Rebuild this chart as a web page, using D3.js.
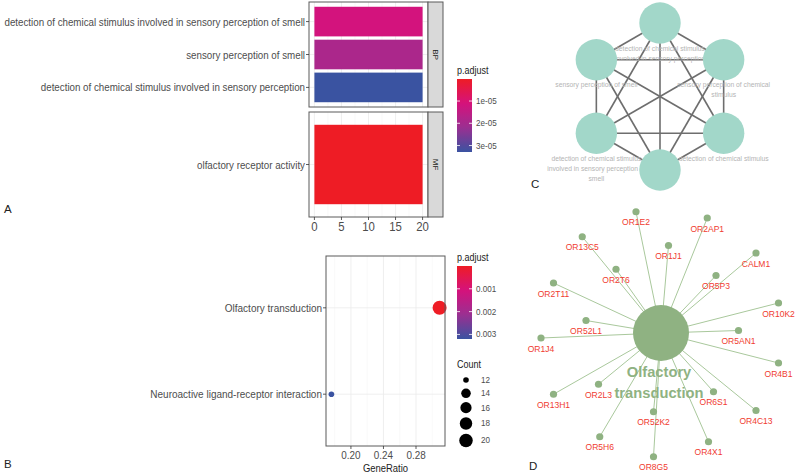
<!DOCTYPE html>
<html>
<head>
<meta charset="utf-8">
<script src="https://cdn.jsdelivr.net/npm/d3@7"></script>
<style>
body{margin:0;background:#fff;}
svg{display:block;font-family:"Liberation Sans",Arial,sans-serif;}
</style>
</head>
<body>
<script>
// ---- panel A: GO enrichment (barplot, faceted by ontology)
var goTerms = ["detection of chemical stimulus involved in sensory perception of smell",
               "sensory perception of smell",
               "detection of chemical stimulus involved in sensory perception",
               "olfactory receptor activity"];
var goOnt = ["BP", "BP", "BP", "MF"];
var goCount = [20, 20, 20, 20];
var goPadj = [1.15e-5, 1.9e-5, 3.29e-5, 1e-7];
var goTicks = [0, 5, 10, 15, 20];
var goLegendTicks = [1e-5, 2e-5, 3e-5];

// ---- panel B: KEGG enrichment (dotplot)
var keggTerms = ["Olfactory transduction", "Neuroactive ligand-receptor interaction"];
var keggRatio = [0.309, 0.176];
var keggCount = [21, 12];
var keggPadj = [1e-6, 0.0032];
var keggTicks = [0.20, 0.24, 0.28];
var keggLegendTicks = [0.001, 0.002, 0.003];
var countBreaks = [12, 14, 16, 18, 20];

// ---- panel C: enrichment map (term similarity network)
var mapTerms = ["detection of chemical stimulus involved in sensory perception",
                "sensory perception of chemical stimulus",
                "detection of chemical stimulus",
                "",
                "detection of chemical stimulus involved in sensory perception of smell",
                "sensory perception of smell"];
var mapLines = [["detection of chemical stimulus", "involved in sensory perception"],
                ["sensory perception of chemical", "stimulus"],
                ["detection of chemical stimulus"],
                [],
                ["detection of chemical stimulus", "involved in sensory perception of", "smell"],
                ["sensory perception of smell"]];

// ---- panel D: gene-concept network (layout coordinates)
var hubName = ["Olfactory", "transduction"];
var genes = ["OR1E2", "OR2AP1", "OR13C5", "OR1J1", "CALM1", "OR2T6", "OR5P3", "OR2T11",
             "OR10K2", "OR52L1", "OR5AN1", "OR1J4", "OR4B1", "OR13H1", "OR2L3", "OR6S1",
             "OR4C13", "OR52K2", "OR5H6", "OR4X1", "OR8G5"];
var geneX = [-0.20, 0.37, -0.63, 0.06, 0.76, -0.36, 0.44, -0.86, 0.94, -0.60, 0.62,
             -0.96, 0.94, -0.86, -0.50, 0.42, 0.76, -0.06, -0.49, 0.38, -0.06];
var geneY = [-0.97, -0.92, -0.77, -0.70, -0.64, -0.51, -0.46, -0.40, -0.24, -0.10, -0.02,
             0.04, 0.24, 0.49, 0.41, 0.47, 0.62, 0.63, 0.83, 0.87, 0.99];

// colours of the red -> blue p.adjust gradient
var padjColors = ['#ee1c25', '#d5127c', '#9b2f91', '#3a53a1'];

var width = 800, height = 473;
var svg = d3.select('body').append('svg')
    .attr('width', width)
    .attr('height', height);

// text in the figure is horizontally narrow, squeeze it a bit
var SX = 0.85;
function txt(g, x, y, s, o){
    o = o || {};
    return g.append('text')
        .attr('transform', 'translate(' + x + ',' + y + ') scale(' + (o.sx || SX) + ',1)')
        .attr('text-anchor', o.anchor || 'start')
        .attr('font-size', o.size || 11.5)
        .attr('font-weight', o.weight || 'normal')
        .attr('fill', o.fill || '#4d4d4d')
        .text(s);
}

function padjColor(domain){
    var n = padjColors.length - 1;
    return d3.scaleLinear()
        .domain(padjColors.map(function(c, i){ return domain[0] + (domain[1] - domain[0]) * i / n; }))
        .range(padjColors)
        .interpolate(d3.interpolateRgb);
}

// colourbar legend
function colorbar(id, x, y, w, h, color, ticks){
    var dom = [color.domain()[0], color.domain()[color.domain().length - 1]];
    var grad = svg.append('defs').append('linearGradient')
        .attr('id', id).attr('x1', 0).attr('x2', 0).attr('y1', 0).attr('y2', 1);
    d3.range(0, 1.0001, 0.05).forEach(function(t){
        grad.append('stop').attr('offset', t)
            .attr('stop-color', color(dom[0] + t * (dom[1] - dom[0])));
    });
    var g = svg.append('g');
    txt(g, x, y - 5, 'p.adjust', {size: 10, sx: 0.9, fill: '#222'});
    g.append('rect').attr('x', x).attr('y', y).attr('width', w).attr('height', h)
        .attr('fill', 'url(#' + id + ')');
    var s = d3.scaleLinear().domain(dom).range([y, y + h]);
    ticks.forEach(function(t){
        g.append('line').attr('x1', x).attr('x2', x + 3).attr('y1', s(t)).attr('y2', s(t))
            .attr('stroke', '#fff').attr('stroke-width', 0.8);
        g.append('line').attr('x1', x + w - 3).attr('x2', x + w).attr('y1', s(t)).attr('y2', s(t))
            .attr('stroke', '#fff').attr('stroke-width', 0.8);
        txt(g, x + w + 4, s(t) + 3, t < 1e-4 ? d3.format('.0e')(t).replace('e-5', 'e-05') : d3.format('.3f')(t),
            {size: 9, sx: 0.9});
    });
}

// ================= panel A
(function(){
    var x0 = 309, x1 = 428;
    var maxC = d3.max(goCount);
    var ax = d3.scaleLinear().domain([-maxC * 0.05, maxC * 1.05]).range([x0, x1]);
    var color = padjColor([d3.min(goPadj), d3.max(goPadj)]);
    var facets = [{ont: 'BP', y0: 2, y1: 107}, {ont: 'MF', y0: 112, y1: 217}];
    var g = svg.append('g');
    facets.forEach(function(f, fi){
        var idx = d3.range(goTerms.length).filter(function(i){ return goOnt[i] === f.ont; });
        var y = d3.scaleBand().domain(idx).range([f.y0, f.y1])
            .paddingInner(0.1).paddingOuter(0.145);
        g.append('rect').attr('x', x0).attr('y', f.y0).attr('width', x1 - x0).attr('height', f.y1 - f.y0)
            .attr('fill', '#fff');
        // grid
        goTicks.forEach(function(t, k){
            g.append('line').attr('x1', ax(t)).attr('x2', ax(t)).attr('y1', f.y0).attr('y2', f.y1)
                .attr('stroke', '#ebebeb').attr('stroke-width', 0.8);
            if (k < goTicks.length - 1) {
                var m = (t + goTicks[k + 1]) / 2;
                g.append('line').attr('x1', ax(m)).attr('x2', ax(m)).attr('y1', f.y0).attr('y2', f.y1)
                    .attr('stroke', '#f3f3f3').attr('stroke-width', 0.5);
            }
        });
        idx.forEach(function(i){
            g.append('line').attr('x1', x0).attr('x2', x1)
                .attr('y1', y(i) + y.bandwidth() / 2).attr('y2', y(i) + y.bandwidth() / 2)
                .attr('stroke', '#ebebeb').attr('stroke-width', 0.8);
        });
        g.selectAll(null).data(idx).enter().append('rect')
            .attr('x', ax(0))
            .attr('y', function(i){ return y(i); })
            .attr('width', function(i){ return ax(goCount[i]) - ax(0); })
            .attr('height', y.bandwidth())
            .attr('fill', function(i){ return color(goPadj[i]); });
        g.append('rect').attr('x', x0).attr('y', f.y0).attr('width', x1 - x0).attr('height', f.y1 - f.y0)
            .attr('fill', 'none').attr('stroke', '#5a5a5a').attr('stroke-width', 1);
        // strip
        g.append('rect').attr('x', x1).attr('y', f.y0).attr('width', 15).attr('height', f.y1 - f.y0)
            .attr('fill', '#d9d9d9').attr('stroke', '#5a5a5a').attr('stroke-width', 1);
        g.append('text')
            .attr('transform', 'translate(' + (x1 + 5) + ',' + ((f.y0 + f.y1) / 2) + ') rotate(90)')
            .attr('text-anchor', 'middle').attr('font-size', 8).attr('fill', '#1a1a1a')
            .text(f.ont);
        // y axis
        idx.forEach(function(i){
            var yy = y(i) + y.bandwidth() / 2;
            g.append('line').attr('x1', x0 - 3).attr('x2', x0).attr('y1', yy).attr('y2', yy)
                .attr('stroke', '#333').attr('stroke-width', 0.8);
            txt(g, x0 - 4, yy + 4, goTerms[i], {anchor: 'end'});
        });
        if (fi === facets.length - 1) {
            goTicks.forEach(function(t){
                g.append('line').attr('x1', ax(t)).attr('x2', ax(t)).attr('y1', f.y1).attr('y2', f.y1 + 3)
                    .attr('stroke', '#333').attr('stroke-width', 0.8);
                txt(g, ax(t), f.y1 + 13.5, t, {anchor: 'middle', size: 12, sx: 0.95});
            });
        }
    });
    colorbar('gA', 457, 79, 15, 73, color, goLegendTicks);
    txt(svg, 4, 213, 'A', {size: 11.5, sx: 1, fill: '#222'});
})();

// ================= panel B
(function(){
    var x0 = 326, x1 = 445, y0 = 256, y1 = 446;
    var ext = d3.extent(keggRatio), pad = (ext[1] - ext[0]) * 0.05;
    var x = d3.scaleLinear().domain([ext[0] - pad, ext[1] + pad]).range([x0, x1]);
    var y = d3.scalePoint().domain(keggTerms).range([y0, y1]).padding(0.6);
    var color = padjColor([d3.min(keggPadj), d3.max(keggPadj)]);
    var cmin = d3.min(keggCount), cmax = d3.max(keggCount);
    var r = function(c){ return 2.8 + 4.2 * Math.sqrt((c - cmin) / (cmax - cmin)); };
    var g = svg.append('g');
    var step = keggTicks[1] - keggTicks[0];
    var minor = d3.range(keggTicks[0] - step / 2, x.domain()[1], step)
        .filter(function(v){ return v > x.domain()[0]; });
    minor.forEach(function(t){
        g.append('line').attr('x1', x(t)).attr('x2', x(t)).attr('y1', y0).attr('y2', y1)
            .attr('stroke', '#f3f3f3').attr('stroke-width', 0.5);
    });
    keggTicks.forEach(function(t){
        g.append('line').attr('x1', x(t)).attr('x2', x(t)).attr('y1', y0).attr('y2', y1)
            .attr('stroke', '#ebebeb').attr('stroke-width', 0.8);
    });
    keggTerms.forEach(function(t){
        g.append('line').attr('x1', x0).attr('x2', x1).attr('y1', y(t)).attr('y2', y(t))
            .attr('stroke', '#ebebeb').attr('stroke-width', 0.8);
    });
    g.selectAll(null).data(keggTerms).enter().append('circle')
        .attr('cx', function(d, i){ return x(keggRatio[i]); })
        .attr('cy', function(d){ return y(d); })
        .attr('r', function(d, i){ return r(keggCount[i]); })
        .attr('fill', function(d, i){ return color(keggPadj[i]); });
    g.append('rect').attr('x', x0).attr('y', y0).attr('width', x1 - x0).attr('height', y1 - y0)
        .attr('fill', 'none').attr('stroke', '#5a5a5a').attr('stroke-width', 1);
    keggTerms.forEach(function(t){
        g.append('line').attr('x1', x0 - 3).attr('x2', x0).attr('y1', y(t)).attr('y2', y(t))
            .attr('stroke', '#333').attr('stroke-width', 0.8);
        txt(g, x0 - 4, y(t) + 4, t, {anchor: 'end', sx: 0.87});
    });
    keggTicks.forEach(function(t){
        g.append('line').attr('x1', x(t)).attr('x2', x(t)).attr('y1', y1).attr('y2', y1 + 3)
            .attr('stroke', '#333').attr('stroke-width', 0.8);
        txt(g, x(t), y1 + 13, d3.format('.2f')(t), {anchor: 'middle', size: 11, sx: 0.9});
    });
    txt(g, (x0 + x1) / 2, y1 + 25.5, 'GeneRatio', {anchor: 'middle', size: 10.5, sx: 0.9, fill: '#222'});
    colorbar('gB', 457, 266, 15, 73, color, keggLegendTicks);
    // size legend
    var lg = svg.append('g');
    txt(lg, 457, 368, 'Count', {size: 10, sx: 0.9, fill: '#222'});
    var cy = 380, prevH = null;
    countBreaks.forEach(function(c){
        var h = Math.max(13, 2 * r(c) + 4);
        if (prevH !== null) cy += (prevH + h) / 2;
        lg.append('circle').attr('cx', 466).attr('cy', cy).attr('r', r(c)).attr('fill', '#000');
        txt(lg, 481, cy + 3, c, {size: 9, sx: 0.9});
        prevH = h;
    });
    txt(svg, 4, 468, 'B', {size: 11.5, sx: 1, fill: '#222'});
})();

// ================= panel C
(function(){
    var cx = 660, cy = 96.5, R = 73.5, nodeR = 20.7;
    var ang = d3.scaleLinear().domain([0, mapTerms.length]).range([-Math.PI / 2, 1.5 * Math.PI]);
    var nodes = mapTerms.map(function(t, i){
        return {name: t, lines: mapLines[i],
                x: cx + R * Math.cos(ang(i)), y: cy + R * Math.sin(ang(i))};
    });
    var links = [];
    nodes.forEach(function(a, i){
        nodes.forEach(function(b, j){ if (j > i) links.push([a, b]); });
    });
    var g = svg.append('g');
    g.selectAll(null).data(links).enter().append('line')
        .attr('x1', function(d){ return d[0].x; }).attr('y1', function(d){ return d[0].y; })
        .attr('x2', function(d){ return d[1].x; }).attr('y2', function(d){ return d[1].y; })
        .attr('stroke', '#6e6e6e').attr('stroke-width', 1.6);
    nodes.forEach(function(n){
        n.lines.forEach(function(l, k){
            txt(g, n.x, n.y + 27.5 + k * 10, l, {anchor: 'middle', size: 7.5, sx: 0.9, fill: '#b4b4b4'});
        });
    });
    g.selectAll(null).data(nodes).enter().append('circle')
        .attr('cx', function(d){ return d.x; }).attr('cy', function(d){ return d.y; })
        .attr('r', nodeR).attr('fill', '#a2d7c9');
    txt(svg, 531, 188, 'C', {size: 11.5, sx: 1, fill: '#222'});
})();

// ================= panel D
(function(){
    var hx = 661, hy = 333;
    var x = d3.scaleLinear().domain([-1, 1]).range([hx - 125, hx + 125]);
    var y = d3.scaleLinear().domain([-1, 1]).range([hy - 125, hy + 125]);
    var g = svg.append('g');
    g.selectAll(null).data(genes).enter().append('line')
        .attr('x1', x(0)).attr('y1', y(0))
        .attr('x2', function(d, i){ return x(geneX[i]); })
        .attr('y2', function(d, i){ return y(geneY[i]); })
        .attr('stroke', '#a9c89c').attr('stroke-width', 1);
    g.append('circle').attr('cx', x(0)).attr('cy', y(0)).attr('r', 28).attr('fill', '#8fb282');
    g.selectAll(null).data(genes).enter().append('circle')
        .attr('cx', function(d, i){ return x(geneX[i]); })
        .attr('cy', function(d, i){ return y(geneY[i]); })
        .attr('r', 3.6).attr('fill', '#8fb282');
    genes.forEach(function(gn, i){
        txt(g, x(geneX[i]), y(geneY[i]) + 13.5, gn, {anchor: 'middle', size: 9.5, sx: 0.9, fill: '#f03b30'});
    });
    hubName.forEach(function(l, k){
        txt(g, x(0) - 2, y(0) + 44 + k * 21, l, {anchor: 'middle', size: 15.5, sx: 0.95,
            weight: 'bold', fill: '#8fb282'});
    });
    txt(svg, 529, 470, 'D', {size: 11.5, sx: 1, fill: '#222'});
})();
</script>
</body>
</html>
